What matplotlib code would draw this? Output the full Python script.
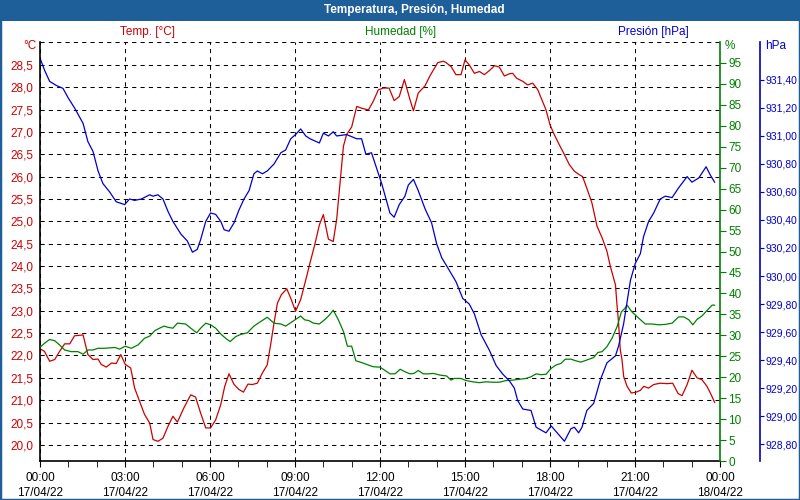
import matplotlib.pyplot as plt
import numpy as np
from matplotlib.patches import Rectangle
from matplotlib.ticker import FuncFormatter, MultipleLocator

# Hours since 00:00 17/04/22 and readings taken from the station plot
temp_h = [0.03, 0.16, 0.34, 0.52, 0.69, 0.87, 1.05, 1.22, 1.52, 1.69, 1.87, 2.05, 2.16, 2.34, 2.52,
          2.69, 2.85, 3.01, 3.2, 3.34, 3.52, 3.69, 3.87, 3.99, 4.16, 4.34, 4.52, 4.69, 4.85, 5.08,
          5.32, 5.49, 5.67, 5.85, 6.02, 6.2, 6.38, 6.52, 6.67, 6.85, 7.02, 7.18, 7.34, 7.49, 7.67,
          7.85, 8.02, 8.14, 8.26, 8.38, 8.52, 8.71, 8.85, 9.02, 9.2, 9.38, 9.53, 9.71, 9.86, 10.0,
          10.18, 10.35, 10.47, 10.59, 10.71, 10.82, 11.0, 11.18, 11.35, 11.59, 11.76, 11.94, 12.12,
          12.32, 12.5, 12.68, 12.86, 13.04, 13.18, 13.35, 13.59, 13.76, 14.04, 14.24, 14.33, 14.51,
          14.68, 14.86, 15.0, 15.15, 15.33, 15.51, 15.68, 15.86, 16.04, 16.21, 16.39, 16.57, 16.68,
          16.82, 17.04, 17.21, 17.39, 17.57, 17.74, 17.86, 18.0, 18.15, 18.33, 18.51, 18.68, 18.86,
          19.04, 19.15, 19.3, 19.48, 19.66, 19.84, 20.01, 20.13, 20.31, 20.36, 20.42, 20.48, 20.54,
          20.6, 20.72, 20.87, 21.04, 21.19, 21.31, 21.48, 21.66, 21.89, 22.13, 22.33, 22.52, 22.66,
          22.84, 23.01, 23.19, 23.36, 23.54, 23.69, 23.81]
temp = [22.14, 22.09, 21.87, 21.91, 22.09, 22.26, 22.26, 22.44, 22.46, 22.02, 21.91, 21.92, 21.80,
        21.74, 21.83, 21.82, 22.02, 21.80, 21.72, 21.27, 20.97, 20.68, 20.49, 20.12, 20.08, 20.15,
        20.42, 20.64, 20.51, 20.83, 21.12, 21.07, 20.71, 20.38, 20.38, 20.56, 20.90, 21.31, 21.59,
        21.35, 21.24, 21.18, 21.36, 21.35, 21.38, 21.61, 21.79, 22.24, 22.73, 23.17, 23.36, 23.49,
        23.28, 22.99, 23.25, 23.69, 24.07, 24.51, 24.92, 25.15, 24.60, 24.55, 25.04, 25.86, 26.68,
        26.94, 27.11, 27.57, 27.53, 27.49, 27.68, 27.94, 27.98, 27.98, 27.70, 27.79, 28.17, 27.76,
        27.47, 27.87, 28.03, 28.25, 28.55, 28.58, 28.55, 28.46, 28.28, 28.28, 28.61, 28.50, 28.31,
        28.35, 28.28, 28.37, 28.48, 28.45, 28.25, 28.30, 28.31, 28.20, 28.13, 28.05, 28.09, 27.94,
        27.68, 27.49, 27.16, 26.94, 26.71, 26.49, 26.27, 26.12, 26.04, 26.00, 25.74, 25.41, 24.89,
        24.63, 24.33, 23.99, 23.58, 23.17, 22.73, 22.13, 21.91, 21.53, 21.31, 21.16, 21.18, 21.22,
        21.31, 21.27, 21.35, 21.38, 21.37, 21.38, 21.15, 21.10, 21.35, 21.67, 21.50, 21.46, 21.31,
        21.12, 20.95]

hum_h = [0.03, 0.16, 0.34, 0.52, 0.69, 0.87, 1.1, 1.34, 1.52, 1.69, 1.87, 2.05, 2.28, 2.64, 2.81,
         3.01, 3.22, 3.46, 3.69, 3.87, 4.05, 4.22, 4.38, 4.52, 4.69, 4.85, 5.14, 5.32, 5.53, 5.67,
         5.85, 6.02, 6.2, 6.38, 6.55, 6.71, 6.91, 7.08, 7.32, 7.55, 7.79, 8.02, 8.26, 8.5, 8.67,
         8.85, 9.02, 9.2, 9.34, 9.49, 9.65, 9.86, 10.06, 10.21, 10.35, 10.53, 10.71, 10.85, 11.0,
         11.15, 11.35, 11.59, 11.76, 12.0, 12.18, 12.35, 12.53, 12.71, 12.88, 13.06, 13.2, 13.35,
         13.53, 13.71, 13.88, 14.12, 14.35, 14.51, 14.62, 14.86, 15.04, 15.27, 15.51, 15.74,
         15.98, 16.21, 16.45, 16.68, 16.92, 17.15, 17.33, 17.51, 17.68, 17.86, 18.04, 18.21,
         18.39, 18.54, 18.74, 18.92, 19.09, 19.3, 19.54, 19.69, 19.84, 20.01, 20.19, 20.37, 20.52,
         20.64, 20.72, 20.89, 21.13, 21.36, 21.6, 21.84, 22.07, 22.31, 22.54, 22.72, 22.9, 23.04,
         23.19, 23.36, 23.58, 23.72, 23.81]
hum = [27.3, 28.1, 29.0, 28.7, 27.7, 26.5, 26.1, 26.1, 25.5, 26.5, 26.5, 26.9, 26.9, 27.1, 26.7,
       27.4, 26.9, 27.7, 29.3, 29.8, 31.1, 31.7, 32.2, 31.9, 31.7, 32.9, 32.7, 31.7, 30.6, 31.7,
       32.9, 32.5, 31.7, 30.3, 29.3, 28.5, 29.7, 30.2, 30.6, 32.2, 33.3, 34.3, 32.9, 32.7, 32.2,
       33.0, 33.8, 34.6, 33.7, 33.5, 32.9, 32.7, 33.8, 34.8, 36.0, 33.7, 30.9, 27.4, 27.4, 23.9,
       23.5, 22.9, 22.5, 22.4, 21.6, 20.8, 20.8, 21.9, 21.3, 20.8, 20.9, 21.6, 20.8, 20.8, 20.9,
       20.5, 20.3, 19.3, 19.7, 19.7, 19.2, 18.9, 18.7, 18.9, 18.8, 18.8, 19.2, 19.3, 19.5, 19.7,
       20.1, 20.8, 20.6, 20.7, 22.1, 22.9, 23.3, 24.3, 24.3, 23.9, 23.6, 24.1, 24.7, 25.9, 26.1,
       27.3, 29.3, 32.1, 35.6, 36.4, 37.2, 35.6, 34.1, 32.7, 32.7, 32.5, 32.6, 32.9, 34.4, 34.4,
       33.7, 32.5, 33.8, 34.6, 36.2, 37.2, 37.2]

pres_h = [0.03, 0.16, 0.34, 0.58, 0.81, 1.0, 1.22, 1.52, 1.69, 1.87, 2.05, 2.22, 2.46, 2.69, 2.99,
          3.16, 3.34, 3.58, 3.87, 3.99, 4.16, 4.34, 4.52, 4.69, 4.97, 5.2, 5.38, 5.55, 5.67, 5.85,
          6.02, 6.2, 6.38, 6.5, 6.67, 6.85, 7.02, 7.2, 7.38, 7.55, 7.67, 7.85, 8.02, 8.26, 8.5,
          8.67, 8.85, 9.02, 9.2, 9.38, 9.53, 9.86, 10.0, 10.18, 10.35, 10.47, 10.82, 11.18, 11.35,
          11.5, 11.7, 11.88, 12.06, 12.35, 12.5, 12.68, 12.88, 13.0, 13.18, 13.35, 13.59, 13.82,
          14.0, 14.18, 14.33, 14.68, 14.92, 15.15, 15.33, 15.57, 15.86, 16.1, 16.33, 16.57, 16.74,
          16.86, 17.04, 17.33, 17.51, 17.86, 18.04, 18.21, 18.51, 18.74, 18.86, 19.01, 19.13,
          19.3, 19.54, 19.78, 20.01, 20.31, 20.42, 20.6, 20.84, 21.01, 21.19, 21.3, 21.48, 21.66,
          21.89, 22.07, 22.31, 22.54, 22.84, 23.01, 23.25, 23.51, 23.66, 23.81]
pres = [931.54, 931.47, 931.39, 931.36, 931.34, 931.27, 931.20, 931.09, 930.96, 930.89, 930.75,
        930.66, 930.60, 930.53, 930.51, 930.55, 930.54, 930.55, 930.58, 930.57, 930.58, 930.55,
        930.46, 930.39, 930.30, 930.25, 930.17, 930.19, 930.26, 930.39, 930.45, 930.44, 930.39,
        930.33, 930.32, 930.38, 930.47, 930.55, 930.61, 930.73, 930.75, 930.73, 930.75, 930.80,
        930.88, 930.90, 930.98, 931.01, 931.05, 931.00, 930.98, 930.95, 931.02, 931.00, 931.03,
        931.00, 931.01, 930.98, 930.98, 930.87, 930.88, 930.77, 930.66, 930.45, 930.42, 930.51,
        930.57, 930.65, 930.69, 930.61, 930.48, 930.38, 930.23, 930.13, 930.08, 929.96, 929.84,
        929.80, 929.73, 929.58, 929.47, 929.36, 929.30, 929.25, 929.20, 929.11, 929.05, 929.04,
        928.92, 928.88, 928.93, 928.89, 928.82, 928.91, 928.92, 928.88, 928.92, 929.04, 929.09,
        929.26, 929.38, 929.43, 929.50, 929.66, 929.97, 930.09, 930.16, 930.28, 930.39, 930.45,
        930.55, 930.57, 930.56, 930.63, 930.71, 930.67, 930.70, 930.78, 930.72, 930.67]

xtick_labels = ['00:00\n17/04/22', '03:00\n17/04/22', '06:00\n17/04/22', '09:00\n17/04/22',
                '12:00\n17/04/22', '15:00\n17/04/22', '18:00\n17/04/22', '21:00\n17/04/22',
                '00:00\n18/04/22']

RED = '#cc0000'
GREEN = '#008000'
BLUE = '#0000cc'
BAR = '#1f5f99'

plt.rcParams['font.family'] = ['Liberation Sans', 'DejaVu Sans']
plt.rcParams['font.size'] = 8.5

fig = plt.figure(figsize=(8, 5), dpi=100)
W, H = 800.0, 500.0

# title bar and frame
fig.patches.append(Rectangle((0, 1 - 21 / H), 1, 21 / H, transform=fig.transFigure,
                             facecolor=BAR, edgecolor='none'))
fig.patches.append(Rectangle((0, 0), 1, 1, transform=fig.transFigure, fill=False,
                             edgecolor=BAR, linewidth=2.5))
fig.text(414 / W, 1 - 10 / H, 'Temperatura, Presión, Humedad', color='white', weight='bold',
         fontsize=8.5, ha='center', va='center')

ax = fig.add_axes([40 / W, 1 - 461 / H, 680 / W, 419 / H])
ax_h = ax.twinx()
ax_p = ax.twinx()
ax_p.spines['right'].set_position(('axes', 720 / 680))

ax.plot(temp_h, temp, color=RED, linewidth=0.9)
ax_h.plot(hum_h, hum, color=GREEN, linewidth=0.9)
ax_p.plot(pres_h, pres, color=BLUE, linewidth=0.9)

ax.set_xlim(0, 24)
ax.set_ylim(19.64, 29.01)
ax_h.set_ylim(0, 100)
ax_p.set_ylim(928.679, 931.671)

# x axis
ax.set_xticks(np.arange(0, 25, 3))
ax.set_xticklabels(xtick_labels, linespacing=1.35)
ax.xaxis.set_minor_locator(MultipleLocator(1))
ax.tick_params(axis='x', which='both', direction='out', length=4, color='black', pad=4)

# temperature axis, grid follows it
ax.set_yticks(np.arange(20.0, 29.01, 0.5))
ax.yaxis.set_major_formatter(FuncFormatter(
    lambda v, p: '' if v > 28.9 else f'{v:.1f}'.replace('.', ',')))
ax.tick_params(axis='y', length=0, labelcolor=RED, pad=5)
ax.grid(True, which='major', color='black', linestyle=(0, (4, 4)), linewidth=0.75)

ax_h.set_yticks(np.arange(0, 96, 5))
ax_h.tick_params(axis='y', length=4, color=GREEN, labelcolor=GREEN, pad=2)

ax_p.set_yticks(np.arange(928.8, 931.41, 0.2))
ax_p.yaxis.set_major_formatter(FuncFormatter(lambda v, p: f'{v:.2f}'.replace('.', ',')))
ax_p.tick_params(axis='y', length=3, color=BLUE, labelcolor=BLUE, labelsize=7.5, pad=1)

for a in (ax, ax_h, ax_p):
    a.spines['top'].set_visible(False)
ax.spines['right'].set_visible(False)
for a in (ax_h, ax_p):
    a.spines['left'].set_visible(False)
    a.spines['bottom'].set_visible(False)
ax.spines['left'].set_linewidth(1.2)
ax.spines['bottom'].set_linewidth(1.2)
ax_h.spines['right'].set_color(GREEN)
ax_h.spines['right'].set_linewidth(1.2)
ax_p.spines['right'].set_color(BLUE)
ax_p.spines['right'].set_linewidth(1.2)

# series names and units
fig.text(147 / W, 1 - 32 / H, 'Temp. [°C]', color=RED, ha='center', va='center')
fig.text(401 / W, 1 - 32 / H, 'Humedad [%]', color=GREEN, ha='center', va='center')
fig.text(653 / W, 1 - 32 / H, 'Presión [hPa]', color=BLUE, ha='center', va='center')
fig.text(36 / W, 1 - 46 / H, '°C', color=RED, ha='right', va='center')
fig.text(725 / W, 1 - 46 / H, '%', color=GREEN, ha='left', va='center')
fig.text(765 / W, 1 - 46 / H, 'hPa', color=BLUE, ha='left', va='center')

plt.savefig('out.png', dpi=100)
